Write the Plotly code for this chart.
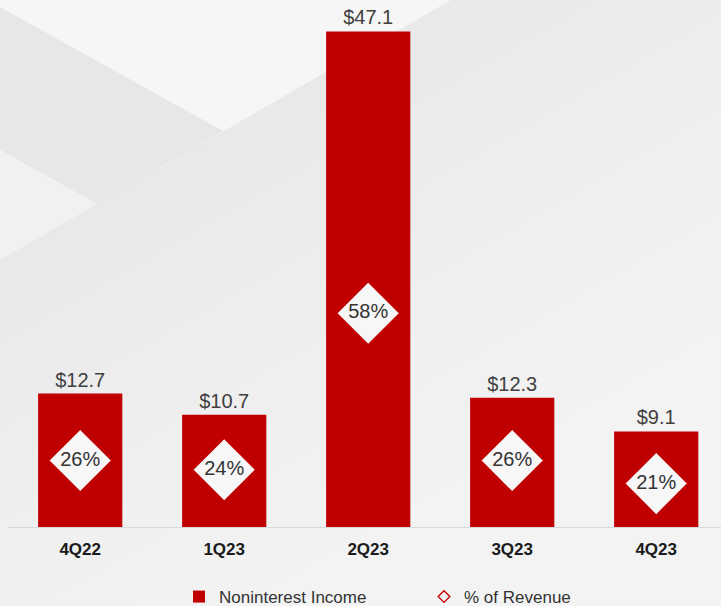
import plotly.graph_objects as go

# ---- data ----
quarters = ["4Q22", "1Q23", "2Q23", "3Q23", "4Q23"]
noninterest_income = [12.7, 10.7, 47.1, 12.3, 9.1]   # $ (millions)
pct_of_revenue = [26, 24, 58, 26, 21]                # % of revenue

W, H = 721, 606
FONT = "Liberation Sans, Arial, sans-serif"
RED = "#C00000"


def pt(x, y):
    return f"{x / W:.5f},{1 - y / H:.5f}"


def poly(points):
    return "M" + " L".join(pt(x, y) for x, y in points) + " Z"


# ---- decorative background (pixel-space polygons) ----
shapes = []
shapes.append(dict(type="path", xref="paper", yref="paper", layer="below",
                   path=poly([(0, 0), (451, 0), (223, 131), (0, 7)]),
                   fillcolor="#f6f6f7", line=dict(width=0)))
shapes.append(dict(type="path", xref="paper", yref="paper", layer="below",
                   path=poly([(0, 7), (223, 131), (97, 204), (0, 150)]),
                   fillcolor="#e6e7e9", line=dict(width=0)))
shapes.append(dict(type="path", xref="paper", yref="paper", layer="below",
                   path=poly([(0, 150), (97, 204), (0, 260)]),
                   fillcolor="#f1f1f2", line=dict(width=0)))
for d in [40, 80, 120, 165, 210, 260, 310, 365, 420, 480]:
    shapes.append(dict(type="path", xref="paper", yref="paper", layer="below",
                       path=poly([(0, 260), (451, 0), ((260 + d) / 0.576, 0), (0, 260 + d)]),
                       fillcolor="rgba(112,112,114,0.009)", line=dict(width=0)))

fig = go.Figure()

fig.add_trace(go.Bar(
    x=quarters, y=noninterest_income, name="Noninterest Income",
    marker=dict(color=RED, line=dict(width=0)), width=0.585,
    text=[f"${v:.1f}" for v in noninterest_income], textposition="outside",
    textfont=dict(family=FONT, size=20, color="#404040"),
    cliponaxis=False, constraintext="none", hoverinfo="skip",
))

fig.add_trace(go.Scatter(
    x=quarters, y=pct_of_revenue, yaxis="y2", mode="markers+text",
    marker=dict(symbol="diamond", size=47, color="#f7f7f7", line=dict(width=0)),
    text=[f"{p}%" for p in pct_of_revenue], textposition="middle center",
    textfont=dict(family=FONT, size=20, color="#333333"),
    showlegend=False, cliponaxis=False, hoverinfo="skip",
))

fig.add_trace(go.Scatter(
    x=[None], y=[None], mode="markers", name="% of Revenue",
    marker=dict(symbol="diamond-open", size=9, color=RED, line=dict(width=1.3, color=RED)),
))

fig.update_layout(
    width=W, height=H,
    margin=dict(l=0, r=0, t=0, b=0, autoexpand=False),
    paper_bgcolor="#f3f3f4", plot_bgcolor="rgba(0,0,0,0)",
    font=dict(family=FONT, color="#404040"),
    shapes=shapes,
    showlegend=True,
    legend=dict(orientation="h", x=179 / W, xanchor="left", y=1 - 597 / H, yanchor="middle",
                bgcolor="rgba(0,0,0,0)", font=dict(family=FONT, size=17, color="#333333"),
                entrywidth=200, traceorder="normal"),
    xaxis=dict(type="category", categoryorder="array", categoryarray=quarters,
               domain=[8 / W, 1], range=[-0.5014, 4.45],
               showline=True, linecolor="#d9d9d9", linewidth=1.3,
               showgrid=False, zeroline=False,
               ticks="outside", ticklen=6, tickcolor="rgba(0,0,0,0)",
               tickfont=dict(family=FONT, size=17, color="#1a1a1a", weight="bold")),
    yaxis=dict(domain=[1 - 527.3 / H, 1], range=[0, 50.08], visible=False, fixedrange=True),
    yaxis2=dict(overlaying="y", range=[11.51, 126.0], visible=False, fixedrange=True),
)

fig.write_html("out.html", config={"displayModeBar": False},
               post_script="document.body.style.margin='0';document.body.style.overflow='hidden';")
